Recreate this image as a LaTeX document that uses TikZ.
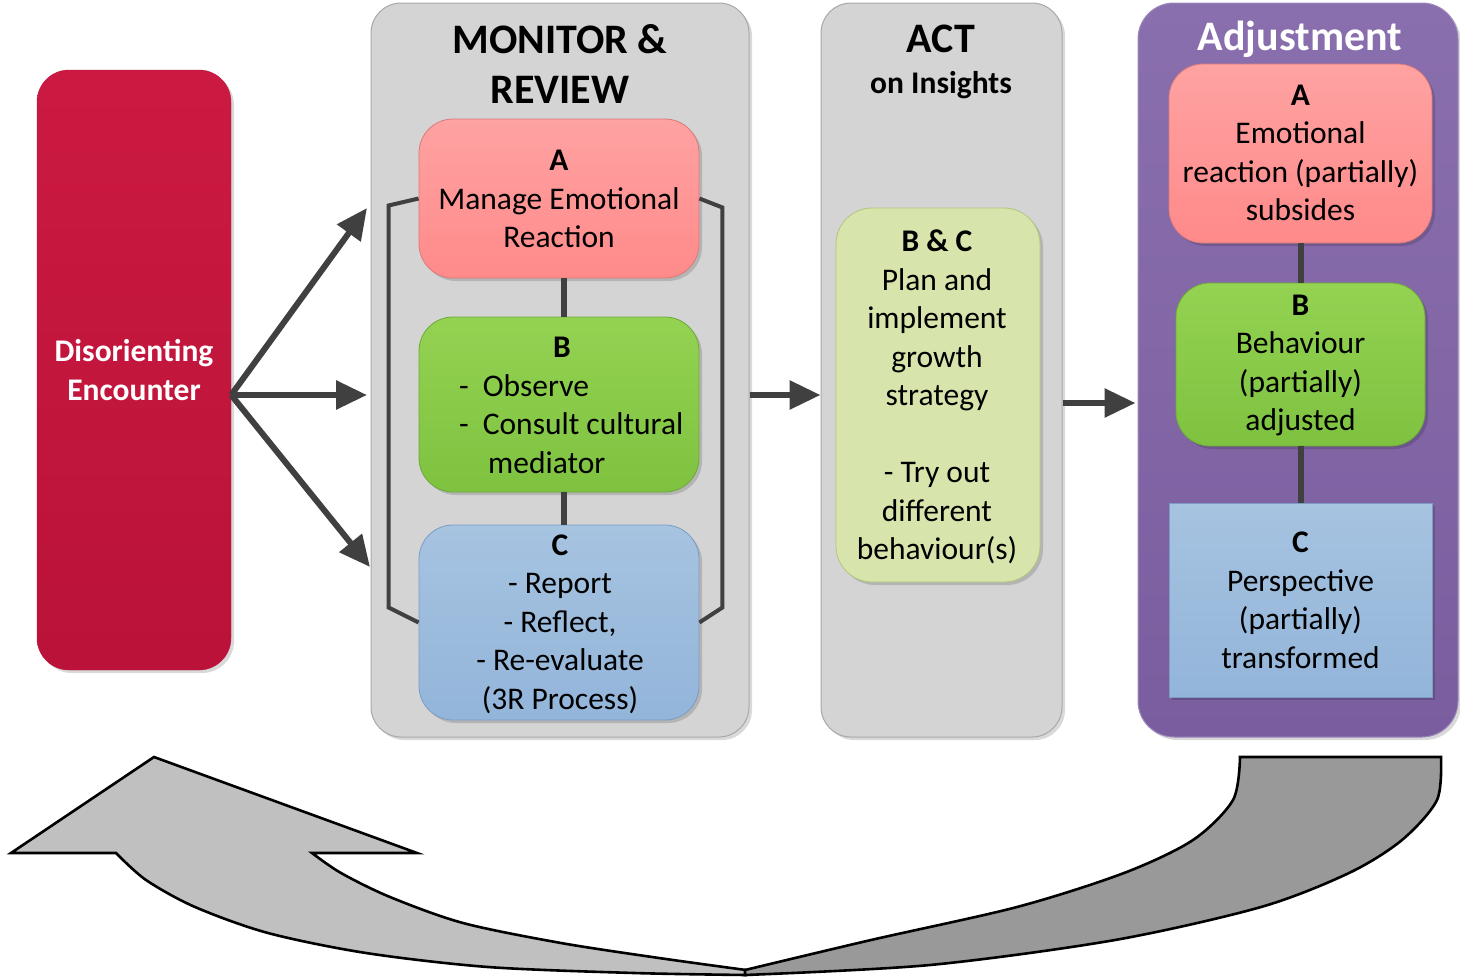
\documentclass[tikz,border=0pt]{standalone}
\usepackage{fontspec}
\setmainfont{Carlito}
\usetikzlibrary{arrows.meta,calc,shadows}
\definecolor{crimT}{HTML}{CB1A41}
\definecolor{crimB}{HTML}{BA1239}
\definecolor{panelgray}{HTML}{D4D4D4}
\definecolor{panelborder}{HTML}{A8A8A8}
\definecolor{pinkT}{HTML}{FFA2A2}
\definecolor{pinkB}{HTML}{FF8A8A}
\definecolor{pinkD}{HTML}{DA7A7A}
\definecolor{greenT}{HTML}{94D252}
\definecolor{greenB}{HTML}{7EC240}
\definecolor{greenD}{HTML}{6EA83C}
\definecolor{blueT}{HTML}{A6C3E0}
\definecolor{blueB}{HTML}{93B5DA}
\definecolor{blueD}{HTML}{7C9CC4}
\definecolor{olive}{HTML}{D7E4AB}
\definecolor{oliveD}{HTML}{B2C67C}
\definecolor{purpT}{HTML}{8A6FAE}
\definecolor{purpB}{HTML}{7A5D9E}
\definecolor{purpD}{HTML}{9C88BC}
\definecolor{arrowc}{HTML}{404040}
\definecolor{ribL}{HTML}{C0C0C0}
\definecolor{ribR}{HTML}{999999}
\begin{document}
\begin{tikzpicture}[x=1pt,y=-1pt,
  shadowed/.style={drop shadow={shadow xshift=3pt,shadow yshift=-3pt,fill=black,opacity=0.15}},
  panel/.style={shadowed,draw=panelborder,line width=1pt,fill=panelgray,rounded corners=30pt,inner sep=0pt},
  pbox/.style={shadowed,draw=pinkD,line width=0.8pt,top color=pinkT,bottom color=pinkB,rounded corners=34pt,inner sep=0pt},
  gbox/.style={shadowed,draw=greenD,line width=0.8pt,top color=greenT,bottom color=greenB,rounded corners=34pt,inner sep=0pt},
  bbox/.style={shadowed,draw=blueD,line width=0.8pt,top color=blueT,bottom color=blueB,rounded corners=34pt,inner sep=0pt},
  body/.style={font=\fontsize{31.5}{38.5}\selectfont,align=center,inner sep=0pt,text=black},
  ttl/.style={font=\fontsize{42}{50}\selectfont\bfseries,align=center,inner sep=0pt},
  bigarrow/.style={draw=arrowc,line width=6pt,-{Triangle[length=31pt,width=28pt]}},
  conn/.style={draw=arrowc,line width=6pt},
  bracket/.style={draw=arrowc,line width=4pt,line join=miter},
  ribbon/.style={draw=black,line width=2.6pt,line join=miter}
]
\useasboundingbox (0,0) rectangle (1460,980);

% Disorienting Encounter
\node[shadowed,top color=crimT,bottom color=crimB,draw=crimB,rounded corners=32pt,
      minimum width=194pt,minimum height=600pt,inner sep=0pt] (de) at (134,370) {};
\node[body,text=white,font=\fontsize{31.5}{38.5}\selectfont\bfseries] (detxt) at (134,370) {Disorienting\\Encounter};

% Panels
\node[panel,minimum width=378pt,minimum height=734pt] (mon) at (560,370) {};
\node[panel,minimum width=241pt,minimum height=734pt] (act) at (941.5,370) {};
\node[shadowed,draw=purpD,line width=1pt,top color=purpT,bottom color=purpB,rounded corners=36pt,
      minimum width=320pt,minimum height=734pt,inner sep=0pt] (adj) at (1298,370) {};

% Titles
\node[ttl] (montitle) at (560,64) {MONITOR \&\\REVIEW};
\node[ttl] (acttitle) at (941,39) {ACT};
\node[inner sep=0pt,font=\fontsize{31.5}{38}\selectfont\bfseries] (actsub) at (941,85) {on Insights};
\node[ttl,text=white] (adjtitle) at (1300,39) {Adjustment};

% Monitor & Review boxes
\node[pbox,minimum width=280pt,minimum height=159pt] (mA) at (559,198.5) {};
\node[body] (mAt) at (559,199) {\textbf{A}\\Manage Emotional\\Reaction};
\node[gbox,minimum width=280pt,minimum height=175pt] (mB) at (559,404.5) {};
\node[body] (mBh) at (562,347) {\textbf{B}};
\node[body,align=left,anchor=west] (mBl) at (459,424) {-\hspace{14pt}Observe\\-\hspace{14pt}Consult cultural\\\hspace*{29pt}mediator};
\node[bbox,minimum width=280pt,minimum height=195pt] (mC) at (559,622.5) {};
\node[body] (mCt) at (560,624) {\textbf{C}\\- Report\\- Reflect,\\- Re-evaluate\\(3R Process)};

\draw[conn] ($(mA.south)+(5,0)$) -- ($(mB.north)+(5,0)$);
\draw[conn] ($(mB.south)+(5,0)$) -- ($(mC.north)+(5,0)$);

% brackets
\draw[bracket] (mA.west) -- ++(-30,7) -- ++(0,402) -- (mC.west);
\draw[bracket] (mA.east) -- ++(23,9) -- ++(0,400) -- (mC.east);

% ACT box
\node[shadowed,draw=oliveD,line width=0.8pt,fill=olive,rounded corners=36pt,
      minimum width=204pt,minimum height=374pt,inner sep=0pt] (bc) at (938,395) {};
\node[body] (bct) at (937,397) {\textbf{B \& C}\\Plan and\\implement\\growth\\strategy\\\mbox{}\\- Try out\\different\\behaviour(s)};

% Adjustment boxes
\node[pbox,minimum width=263pt,minimum height=179pt] (aA) at (1300.5,153.5) {};
\node[body] (aAt) at (1300.5,153) {\textbf{A}\\Emotional\\reaction (partially)\\subsides};
\node[gbox,minimum width=249pt,minimum height=163pt] (aB) at (1300.5,364.5) {};
\node[body] (aBt) at (1300.5,365.5) {\textbf{B}\\Behaviour\\(partially)\\adjusted};
\node[shadowed,draw=blueD,line width=0.8pt,top color=blueT,bottom color=blueB,
      minimum width=263pt,minimum height=194pt,inner sep=0pt] (aC) at (1300.5,600) {};
\node[body] (aCt) at (1300.5,600.5) {\textbf{C}\\Perspective\\(partially)\\transformed};

\draw[conn] (aA.south) -- (aB.north);
\draw[conn] (aB.south) -- (aC.north);

% arrows from Disorienting Encounter
\coordinate (deo) at ($(de.east)+(0,25)$);
\coordinate (t1) at (367,208);
\coordinate (t2) at (367,395);
\coordinate (t3) at (370,567);
\draw[bigarrow] (deo) -- (t1);
\draw[bigarrow] (deo) -- (t2);
\draw[bigarrow] (deo) -- (t3);

% arrows between panels
\draw[bigarrow] ($(mon.east)+(0,25)$) -- ($(act.west)+(0,25)$);
\draw[bigarrow] ($(act.east)+(0,33)$) -- ($(adj.west)+(-2,33)$);

% bottom curved arrow
\filldraw[ribbon,fill=ribL] (154,757) -- (417,853) -- (312,853)
  -- plot[smooth] coordinates {(312,853) (341,873) (390,897) (463,923) (561,943) (659,958) (746,970)}
  -- plot[smooth] coordinates {(746,975) (634,973) (488,967) (366,953) (268,933) (195,907) (146,880) (116,853)}
  -- (11,853) -- cycle;
\filldraw[ribbon,fill=ribR] (1240,757) -- (1441,757)
  -- plot[smooth] coordinates {(1441,757) (1437,800) (1402,840) (1349,873) (1261,907) (1115,940) (930,965) (745,975)}
  -- plot[smooth] coordinates {(745,970) (871,940) (1017,907) (1124,873) (1193,840) (1233,800) (1240,757)}
  -- cycle;
\end{tikzpicture}
\end{document}
